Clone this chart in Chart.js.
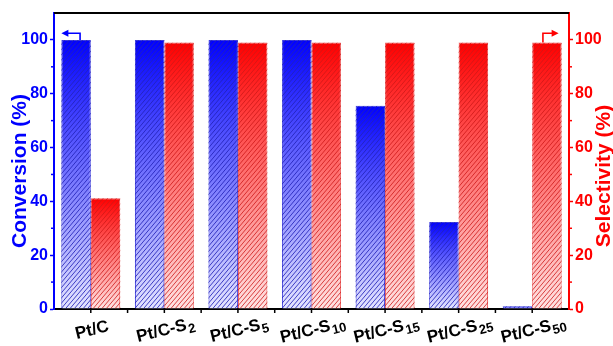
<!DOCTYPE html>
<html>
<head>
<meta charset="utf-8">
<script src="https://cdn.jsdelivr.net/npm/chart.js@4"></script>
<style>
  html, body { margin: 0; padding: 0; background: #fff; }
  #wrap { width: 613px; height: 346px; }
</style>
</head>
<body>
<div id="wrap"><canvas id="chart" width="613" height="346"></canvas></div>
<script>
// categories: main label + subscript part
const categories = ["Pt/C", "Pt/C-S2", "Pt/C-S5", "Pt/C-S10", "Pt/C-S15", "Pt/C-S25", "Pt/C-S50"];
const labelMain = ["Pt/C", "Pt/C-S", "Pt/C-S", "Pt/C-S", "Pt/C-S", "Pt/C-S", "Pt/C-S"];
const labelSub = ["", "2", "5", "10", "15", "25", "50"];

const conversion = [100, 100, 100, 100, 75.5, 32.3, 1];
const selectivity = [41.2, 99, 99, 99, 99, 99, 99];

const yTicks = [0, 20, 40, 60, 80, 100];
const yMinor = [10, 30, 50, 70, 90];

const FONT = "'Liberation Sans', Arial, sans-serif";
const BLUE = "#0000ff";
const RED = "#ff0000";
const LABEL_ANGLE = -14; // degrees

function gradFill(top, bottom) {
  return (c) => {
    const chart = c.chart;
    if (!chart.chartArea || c.type !== "data") return top;
    const axis = c.datasetIndex === 0 ? "y" : "y1";
    const s = chart.scales[axis];
    const y0 = s.getPixelForValue(c.raw);
    const y1 = s.getPixelForValue(0);
    const g = chart.ctx.createLinearGradient(0, y0, 0, y1 + 0.01);
    g.addColorStop(0, top);
    g.addColorStop(1, bottom);
    return g;
  };
}

// hatch lines, axis extras, arrows, labels
const extras = {
  id: "extras",
  afterDatasetsDraw(chart) {
    const ctx = chart.ctx;
    const cols = ["rgba(35,35,185,0.85)", "rgba(205,25,25,0.8)"];
    chart.data.datasets.forEach((ds, di) => {
      const meta = chart.getDatasetMeta(di);
      meta.data.forEach((bar) => {
        const p = bar.getProps(["x", "y", "base", "width"], true);
        const l = p.x - p.width / 2, r = p.x + p.width / 2;
        const h = p.base - p.y;
        if (h <= 0) return;
        ctx.save();
        ctx.beginPath();
        ctx.rect(l, p.y, p.width, h);
        ctx.clip();
        ctx.strokeStyle = cols[di];
        ctx.lineWidth = 1;
        const dx = h * 0.85;
        ctx.beginPath();
        for (let k = l - dx - 5; k < r + 5; k += 4.4) {
          ctx.moveTo(k, p.base);
          ctx.lineTo(k + dx, p.y);
        }
        ctx.stroke();
        ctx.restore();
      });
    });
  },
  afterDraw(chart) {
    const ctx = chart.ctx;
    const a = chart.chartArea;
    const xs = chart.scales.x;
    const ys = chart.scales.y;
    const ys1 = chart.scales.y1;

    ctx.save();
    // top frame line
    ctx.strokeStyle = "#000";
    ctx.lineWidth = 2;
    ctx.beginPath();
    ctx.moveTo(a.left, a.top);
    ctx.lineTo(a.right, a.top);
    ctx.stroke();

    // bottom ticks at centers and boundaries
    ctx.lineWidth = 1.5;
    ctx.beginPath();
    const step = (a.right - a.left) / categories.length;
    for (let i = 1; i < categories.length * 2; i++) {
      const x = a.left + (i * step) / 2;
      ctx.moveTo(x, a.bottom);
      ctx.lineTo(x, a.bottom + 4);
    }
    ctx.stroke();

    // minor y ticks
    yMinor.forEach((v) => {
      const y = ys.getPixelForValue(v);
      ctx.strokeStyle = BLUE;
      ctx.beginPath();
      ctx.moveTo(a.left, y);
      ctx.lineTo(a.left - 3, y);
      ctx.stroke();
      ctx.strokeStyle = RED;
      ctx.beginPath();
      ctx.moveTo(a.right, y);
      ctx.lineTo(a.right + 3, y);
      ctx.stroke();
    });

    // x labels with subscripts, tilted
    ctx.fillStyle = "#000";
    const ang = (LABEL_ANGLE * Math.PI) / 180;
    categories.forEach((c, i) => {
      const x = xs.getPixelForTick(i);
      ctx.font = "bold 17px " + FONT;
      const w1 = ctx.measureText(labelMain[i]).width;
      ctx.font = "bold 13px " + FONT;
      const w2 = labelSub[i] ? ctx.measureText(labelSub[i]).width + 1 : 0;
      const x0 = -(w1 + w2) / 2;
      ctx.save();
      ctx.translate(x + 1, 329);
      ctx.rotate(ang);
      ctx.textBaseline = "alphabetic";
      ctx.textAlign = "left";
      ctx.font = "bold 17px " + FONT;
      ctx.fillText(labelMain[i], x0, 6);
      if (labelSub[i]) {
        ctx.font = "bold 13px " + FONT;
        ctx.fillText(labelSub[i], x0 + w1 + 1, 10);
      }
      ctx.restore();
    });

    // axis titles (both read bottom to top)
    const cy = (a.top + a.bottom) / 2;
    ctx.font = "bold 21px " + FONT;
    ctx.textAlign = "center";
    ctx.textBaseline = "middle";
    ctx.save();
    ctx.translate(20, cy + 10);
    ctx.rotate(-Math.PI / 2);
    ctx.fillStyle = BLUE;
    ctx.fillText("Conversion (%)", 0, 0);
    ctx.restore();
    ctx.save();
    ctx.translate(604, cy + 15);
    ctx.rotate(-Math.PI / 2);
    ctx.fillStyle = RED;
    ctx.fillText("Selectivity (%)", 0, 0);
    ctx.restore();

    // arrows pointing to the axes
    const b0 = chart.getDatasetMeta(0).data[0].getProps(["x", "y", "width"], true);
    const ay = ys.getPixelForValue(102.5);
    ctx.strokeStyle = BLUE;
    ctx.fillStyle = BLUE;
    ctx.lineWidth = 1.6;
    const vx = b0.x + 4;
    ctx.beginPath();
    ctx.moveTo(vx, b0.y);
    ctx.lineTo(vx, ay);
    ctx.lineTo(b0.x - b0.width / 2 + 5, ay);
    ctx.stroke();
    ctx.beginPath();
    ctx.moveTo(b0.x - b0.width / 2, ay);
    ctx.lineTo(b0.x - b0.width / 2 + 7, ay - 3.5);
    ctx.lineTo(b0.x - b0.width / 2 + 7, ay + 3.5);
    ctx.closePath();
    ctx.fill();

    const m1 = chart.getDatasetMeta(1);
    const b1 = m1.data[m1.data.length - 1].getProps(["x", "y", "width"], true);
    const ay1 = ys1.getPixelForValue(102.5);
    ctx.strokeStyle = RED;
    ctx.fillStyle = RED;
    const vx1 = b1.x - 4;
    const tip = b1.x + b1.width / 2 - 3;
    ctx.beginPath();
    ctx.moveTo(vx1, b1.y);
    ctx.lineTo(vx1, ay1);
    ctx.lineTo(tip - 5, ay1);
    ctx.stroke();
    ctx.beginPath();
    ctx.moveTo(tip, ay1);
    ctx.lineTo(tip - 7, ay1 - 3.5);
    ctx.lineTo(tip - 7, ay1 + 3.5);
    ctx.closePath();
    ctx.fill();

    ctx.restore();
  },
};

function yAxis(pos, color, width) {
  return {
    type: "linear",
    position: pos,
    min: 0,
    max: 110,
    afterBuildTicks: (s) => {
      s.ticks = yTicks.map((v) => ({ value: v }));
    },
    afterFit: (s) => {
      s.width = width;
    },
    ticks: {
      color: color,
      padding: 2,
      font: { family: FONT, weight: "bold", size: 16 },
    },
    grid: {
      drawOnChartArea: false,
      color: color,
      tickLength: 4,
      tickWidth: 1.5,
    },
    border: { color: color, width: 2 },
  };
}

new Chart(document.getElementById("chart"), {
  type: "bar",
  data: {
    labels: categories,
    datasets: [
      {
        label: "Conversion",
        data: conversion,
        yAxisID: "y",
        backgroundColor: gradFill("#0000ff", "#e6e6ff"),
        borderColor: "rgba(40,40,220,0.9)",
        borderWidth: 1,
        categoryPercentage: 0.8,
        barPercentage: 1.0,
      },
      {
        label: "Selectivity",
        data: selectivity,
        yAxisID: "y1",
        backgroundColor: gradFill("#ff0000", "#ffe4e4"),
        borderColor: "rgba(235,70,70,0.9)",
        borderWidth: 1,
        categoryPercentage: 0.8,
        barPercentage: 1.0,
      },
    ],
  },
  options: {
    responsive: false,
    animation: false,
    layout: { padding: { top: 13, left: 0, right: 0, bottom: 0 } },
    plugins: { legend: { display: false }, tooltip: { enabled: false } },
    scales: {
      x: {
        offset: true,
        afterFit: (s) => {
          s.height = 37;
        },
        ticks: { display: false },
        grid: { display: false },
        border: { color: "#000", width: 2 },
      },
      y: yAxis("left", BLUE, 54),
      y1: yAxis("right", RED, 44),
    },
  },
  plugins: [extras],
});
</script>
</body>
</html>
